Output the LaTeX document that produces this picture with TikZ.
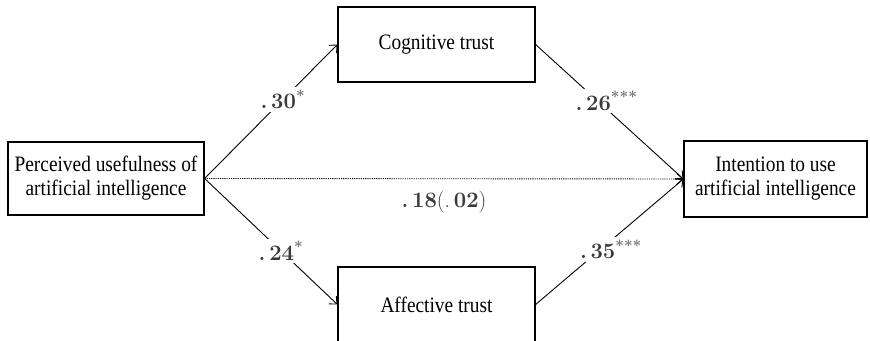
\documentclass[tikz,border=0pt]{standalone}
\usepackage{fontspec}
\newfontfamily\boxfont{Liberation Serif}[FakeStretch=0.88]
\usetikzlibrary{arrows.meta}
\definecolor{coefgray}{RGB}{58,58,58}
\definecolor{stargray}{RGB}{105,105,105}
\newcommand{\sig}[1]{\textsuperscript{\textcolor{stargray}{#1}}}

\begin{document}
\begin{tikzpicture}[x=1bp,y=1bp,
  varbox/.style={draw, line width=1.2bp, inner sep=0pt, align=center,
    minimum height=75bp,
    font=\boxfont\fontsize{22bp}{24bp}\selectfont},
  effect/.style={line width=0.9bp, -{Straight Barb[length=6bp,width=11bp]}},
  direct/.style={effect, dash pattern=on 1.1bp off 1.1bp},
  coef/.style={fill=white, inner sep=2.5bp, text=coefgray,
    font=\bfseries\fontsize{22bp}{26bp}\selectfont}]
\useasboundingbox (0,0) rectangle (870,340);

% variables
\node[varbox, minimum width=196bp, minimum height=73bp] (pu) at (106,161.5)
  {Perceived usefulness of\\artificial intelligence};
\node[varbox, minimum width=197bp] (ct) at (436.5,295.5) {Cognitive trust};
\node[varbox, minimum width=197bp] (at) at (436.5,35.5) {Affective trust};
\node[varbox, minimum width=183bp, minimum height=76bp] (iu) at (775.5,161)
  {Intention to use\\artificial intelligence};

% direct effect
\draw[direct] (pu.east) -- (iu.west)
  node[pos=0.5, yshift=-23bp, text=coefgray,
       font=\fontsize{22bp}{26bp}\selectfont]
  {{\bfseries .\,18}(.\,{\bfseries 02})};

% mediated paths
\draw[effect] (pu.east) -- (ct.west) node[coef, pos=0.59] {.\,30\sig{*}};
\draw[effect] (ct.east) -- (iu.west) node[coef, pos=0.48, yshift=8bp] {.\,26\sig{***}};
\draw[effect] (pu.east) -- (at.west) node[coef, pos=0.575] {.\,24\sig{*}};
\draw[effect] (at.east) -- (iu.west) node[coef, pos=0.51, yshift=-9bp] {.\,35\sig{***}};
\end{tikzpicture}
\end{document}
